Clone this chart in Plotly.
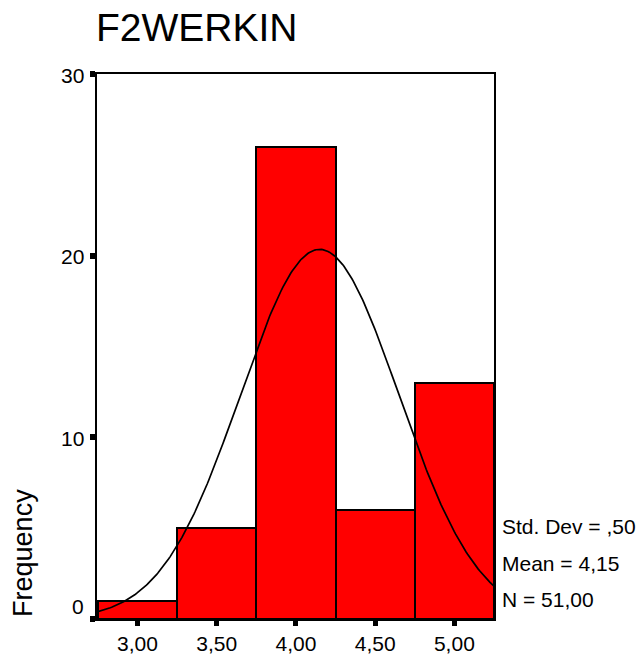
import numpy as np
import plotly.graph_objects as go

# Data
bin_centers = [3.00, 3.50, 4.00, 4.50, 5.00]
frequencies = [1, 5, 26, 6, 13]
x_tick_vals = [3.00, 3.50, 4.00, 4.50, 5.00]
x_tick_text = ["3,00", "3,50", "4,00", "4,50", "5,00"]
y_tick_vals = [0, 10, 20, 30]
y_tick_text = ["0", "10", "20", "30"]
stat_mean = 4.15
stat_sd = 0.50
stat_n = 51
bin_width = 0.5
stat_lines = ["Std. Dev = ,50", "Mean = 4,15", "N = 51,00"]
title_text = "F2WERKIN"
y_title = "Frequency"

X_RANGE = [2.745, 5.25]
FONT = "Liberation Sans, Arial, sans-serif"

# fitted normal curve (as SPSS draws it from mean, sd, N)
xc = np.linspace(X_RANGE[0], X_RANGE[1], 300)
yc = stat_n * bin_width / (stat_sd * np.sqrt(2 * np.pi)) * np.exp(-0.5 * ((xc - stat_mean) / stat_sd) ** 2)

fig = go.Figure()
fig.add_trace(go.Bar(
    x=bin_centers, y=frequencies, width=bin_width,
    marker=dict(color="#FF0000", line=dict(color="black", width=2)),
    hoverinfo="skip",
))
fig.add_trace(go.Scatter(
    x=xc, y=yc, mode="lines",
    line=dict(color="black", width=1.7),
    hoverinfo="skip",
))

annotations = []
# y tick labels (SPSS places the 0 label slightly above the axis)
for v, t in zip(y_tick_vals, y_tick_text):
    annotations.append(dict(
        x=0, xref="paper", y=v, yref="y", text=t, showarrow=False,
        xanchor="right", yanchor="middle", xshift=-11,
        yshift=(13 if v == 0 else -1),
        font=dict(family=FONT, size=21, color="black"),
    ))
# y axis title
annotations.append(dict(
    x=0, xref="paper", y=(619 - 553) / 544.5, yref="paper", text=y_title,
    showarrow=False, textangle=-90, xanchor="center", yanchor="middle",
    xshift=-74, font=dict(family=FONT, size=27, color="black"),
))
# stats
for i, s in enumerate(stat_lines):
    ypx = 527 + i * 36.5
    annotations.append(dict(
        x=1, xref="paper", y=(619 - ypx) / 544.5, yref="paper", text=s,
        showarrow=False, xanchor="left", yanchor="middle", xshift=6,
        font=dict(family=FONT, size=21, color="black"),
    ))
# title
annotations.append(dict(
    x=0, xref="paper", y=1, yref="paper", text=title_text, showarrow=False,
    xanchor="left", yanchor="middle", yshift=74.5 - 28, xshift=-3,
    font=dict(family=FONT, size=39, color="black"),
))

fig.update_layout(
    width=640, height=655,
    margin=dict(l=97, r=146, t=74, b=36),
    paper_bgcolor="white", plot_bgcolor="white",
    showlegend=False, bargap=0,
    annotations=annotations,
    font=dict(family=FONT, size=21, color="black"),
)
fig.update_xaxes(
    range=X_RANGE, tickvals=x_tick_vals, ticktext=x_tick_text,
    showgrid=False, zeroline=False, automargin=False,
    showline=True, linecolor="black", linewidth=2, mirror=True,
    ticks="outside", ticklen=5, tickwidth=5, tickcolor="black",
    tickfont=dict(family=FONT, size=21, color="black"),
)
fig.update_yaxes(
    range=[0, 30], tickvals=y_tick_vals, showticklabels=False,
    showgrid=False, zeroline=False, automargin=False,
    showline=True, linecolor="black", linewidth=2, mirror=True,
    ticks="outside", ticklen=5, tickwidth=6, tickcolor="black",
)

fig.write_html("out.html")
